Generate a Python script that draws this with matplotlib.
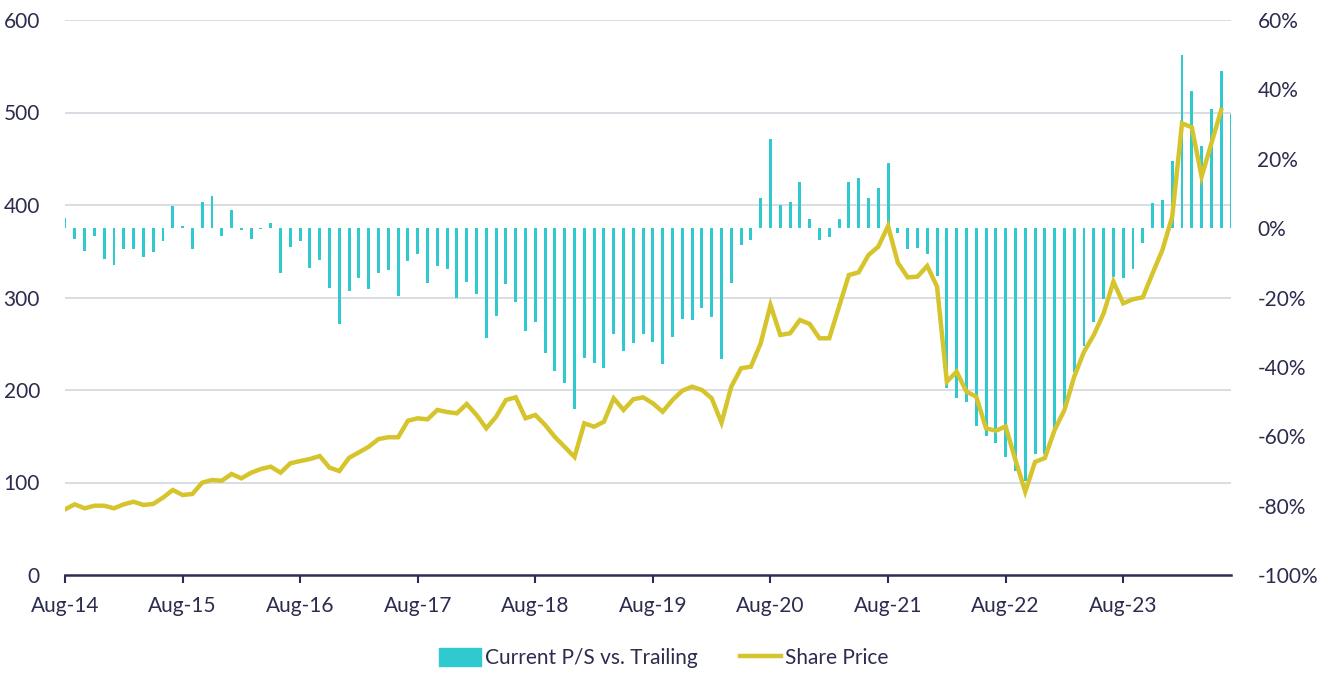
import numpy as np
import matplotlib
matplotlib.use('Agg')
import matplotlib.pyplot as plt
from matplotlib.patches import Patch
from matplotlib.lines import Line2D

# =============================================================================
# data (monthly, Aug-14 .. Jul-24)
# =============================================================================
tick_labels = ['Aug-14', 'Aug-15', 'Aug-16', 'Aug-17', 'Aug-18',
               'Aug-19', 'Aug-20', 'Aug-21', 'Aug-22', 'Aug-23']

# current P/S vs trailing, in %
ps_vs_trailing = [
    3.0, -3.2, -6.5, -2.4, -8.9, -10.6, -6.1, -6.1, -8.4, -6.8, -3.8, 6.3,
    0.5, -6.1, 7.4, 9.3, -2.4, 5.3, -0.5, -3.0, -0.3, 1.4, -13.0, -5.4,
    -3.7, -11.5, -9.2, -17.4, -27.7, -18.1, -14.5, -17.6, -13.0, -12.0, -19.7, -9.4,
    -7.5, -15.7, -11.0, -11.8, -20.2, -15.5, -19.0, -31.8, -25.3, -16.1, -21.4, -29.8,
    -27.2, -36.0, -41.2, -44.7, -52.2, -37.5, -38.9, -40.3, -30.5, -35.5, -33.2, -30.5,
    -32.9, -39.2, -31.3, -26.2, -26.4, -22.9, -25.7, -37.8, -15.9, -4.9, -3.4, 8.8,
    25.7, 6.6, 7.4, 13.2, 2.6, -3.4, -2.7, 2.6, 13.2, 14.4, 8.8, 11.7,
    18.9, -1.4, -6.1, -5.6, -7.5, -13.7, -46.0, -49.0, -50.0, -57.0, -60.0, -62.0,
    -66.0, -70.0, -73.0, -65.0, -65.0, -58.0, -51.4, -41.6, -33.9, -27.1, -20.5, -14.2,
    -14.5, -11.8, -4.3, 7.2, 8.2, 19.4, 50.0, 39.6, 23.6, 34.2, 45.2, 33.0,
]

# share price (left axis), last month not shown
share_price = [
    71.0, 76.4, 72.1, 74.9, 74.9, 72.1, 76.4, 79.2, 75.7, 76.8, 83.6, 91.9,
    86.5, 87.6, 99.8, 102.7, 101.9, 109.2, 104.5, 110.6, 114.6, 117.1, 110.6, 120.8,
    123.2, 125.4, 128.6, 116.0, 112.4, 126.8, 132.6, 138.7, 147.0, 148.9, 148.9, 166.8,
    169.4, 168.3, 178.4, 176.2, 174.8, 184.9, 173.0, 158.6, 171.1, 189.2, 192.1, 169.4,
    173.0, 162.2, 149.2, 138.4, 127.6, 164.0, 160.3, 165.7, 191.0, 178.4, 190.0, 192.1,
    185.6, 176.5, 189.2, 199.2, 203.6, 200.0, 191.0, 164.6, 203.6, 223.5, 225.2, 250.5,
    291.9, 259.5, 261.3, 275.7, 271.4, 255.9, 255.9, 290.1, 324.3, 327.2, 345.9, 354.9,
    377.3, 337.6, 321.8, 322.5, 334.1, 311.7, 209.0, 219.8, 198.2, 192.8, 158.6, 156.0,
    160.5, 124.3, 90.1, 122.2, 126.5, 156.8, 178.4, 214.4, 241.4, 259.5, 282.9, 317.1,
    293.7, 298.1, 300.2, 326.2, 351.4, 387.4, 488.3, 484.0, 430.6, 466.7, 502.7, np.nan,
]

# =============================================================================
# plot
# =============================================================================
plt.rcParams['font.family'] = ['Lato', 'DejaVu Sans']
navy = '#2b2c4e'
teal = '#2fc9cf'
gold = '#d6c42c'
grid_c = '#d3d7de'

x = np.arange(len(ps_vs_trailing))

fig = plt.figure(figsize=(13.28, 6.73), dpi=100)
ax1 = fig.add_axes([65 / 1328, 98 / 673, 1166 / 1328, 555 / 673])
ax2 = ax1.twinx()

# bars on right axis
ax2.bar(x, ps_vs_trailing, width=0.3, color=teal, zorder=2)
ax2.set_ylim(-100, 60)
ax2.set_yticks(range(-100, 61, 20))
ax2.set_yticklabels(['{}%'.format(v) for v in range(-100, 61, 20)])

# line on left axis, drawn above the bars
ax1.set_zorder(ax2.get_zorder() + 1)
ax1.patch.set_visible(False)
ax1.plot(x, share_price, color=gold, lw=3.2, solid_joinstyle='miter', zorder=3)
ax1.set_ylim(0, 600)
ax1.set_yticks(range(0, 601, 100))
ax1.set_xlim(0, len(x) - 1)
ax1.set_xticks(range(0, 120, 12))
ax1.set_xticklabels(tick_labels)

for v in range(100, 601, 100):
    ax2.axhline(-100 + v * 160 / 600, color=grid_c, lw=1.2, zorder=0)

for ax in (ax1, ax2):
    for s in ax.spines.values():
        s.set_visible(False)
ax1.spines['bottom'].set_visible(True)
ax1.spines['bottom'].set_color(navy)
ax1.spines['bottom'].set_linewidth(1.8)

ax1.tick_params(axis='x', colors=navy, labelsize=15, length=6, width=1.5, pad=9)
ax1.tick_params(axis='y', colors=navy, labelsize=15, length=0, pad=18)
ax2.tick_params(axis='y', colors=navy, labelsize=15, length=0, pad=19)

handles = [Patch(color=teal), Line2D([], [], color=gold, lw=3.2)]
fig.legend(handles, ['Current P/S vs. Trailing', 'Share Price'], loc='center',
           bbox_to_anchor=(0.5, 0.022), ncol=2, frameon=False, fontsize=15,
           labelcolor=navy, handlelength=2.0, handleheight=0.9,
           handletextpad=0.2, columnspacing=2.0)

fig.savefig('out.png', dpi=100)
